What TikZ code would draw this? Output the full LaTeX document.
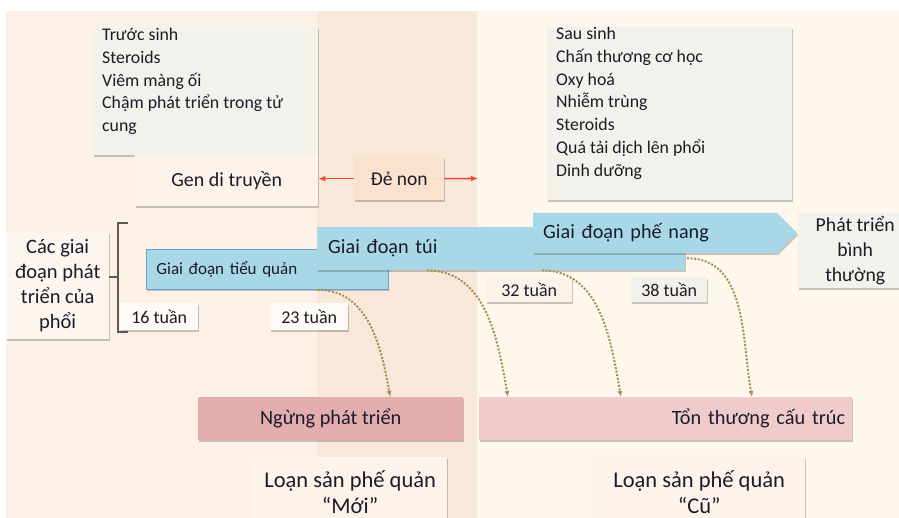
\documentclass[tikz,border=0pt]{standalone}
\usepackage{fontspec}
\setmainfont{Carlito}
\usetikzlibrary{positioning,arrows.meta,shapes.symbols,shadows}
\definecolor{bgleft}{HTML}{FDF0E4}
\definecolor{bgmid}{HTML}{F8E8D9}
\definecolor{bgright}{HTML}{FEF8EC}
\definecolor{notefill}{HTML}{F2F1EC}
\definecolor{genfill}{HTML}{FCF2E9}
\definecolor{prefill}{HTML}{FBE2CF}
\definecolor{lblfill}{HTML}{FDF6EF}
\definecolor{stagefill}{HTML}{A8D7E7}
\definecolor{stageline}{HTML}{6A9FCE}
\definecolor{stopfill}{HTML}{E3ADAD}
\definecolor{dmgfill}{HTML}{EFCCCB}
\definecolor{bpdfill}{HTML}{FDF3EA}
\definecolor{brown}{HTML}{A88E5A}
\definecolor{redarr}{HTML}{E84A3A}
\definecolor{ink}{HTML}{1B1B2A}

\begin{document}
\begin{tikzpicture}[x=1pt,y=-1pt,
 shade/.style={drop shadow={shadow xshift=1pt,shadow yshift=-2pt,opacity=.3,fill=black!70}},
 note/.style={fill=notefill,shade,anchor=north west,inner sep=0pt},
 list/.style={anchor=north west,align=left,inner sep=0pt,text=ink,font=\fontsize{17.8}{22.8}\selectfont},
 box/.style={shade,anchor=north west,align=center,text=ink,inner sep=0pt},
 weekbox/.style={box,fill=#1,minimum width=78pt,minimum height=27pt,font=\fontsize{18}{20}\selectfont},
 stage/.style={fill=stagefill,shade,text=ink,font=\fontsize{20.2}{22}\selectfont},
 arr/.style={-{Latex[length=7pt,width=6pt]},line width=1.6pt,draw=redarr},
 flow/.style={-{Latex[length=6pt,width=5pt]},line width=2pt,draw=brown,
 dash pattern=on 2pt off 1.6pt}]
\useasboundingbox (0,0) rectangle (899,518);
% background bands
\fill[white] (0,0) rectangle (899,518);
\fill[bgleft] (6,11) rectangle (317,518);
\fill[bgmid] (317,11) rectangle (477,518);
\fill[bgright] (477,11) rectangle (899,518);

% risk factors
\node[note,minimum width=225pt,minimum height=128pt] (prebox) at (93,27) {};
\node[list] (pretxt) at (102,28) {Trước sinh\\Steroids\\Viêm màng ối\\Chậm phát triển trong tử\\cung};
\node[box,fill=genfill,minimum width=183pt,minimum height=51pt,
 font=\fontsize{20}{22}\selectfont] (gen) at (135,155) {Gen di truyền};
\node[box,fill=prefill,minimum width=90pt,minimum height=43pt,
 font=\fontsize{19.5}{22}\selectfont] (preterm) at (354,157) {Đẻ non};
\node[note,minimum width=245pt,minimum height=173pt] (postbox) at (547,27) {};
\node[list] (posttxt) at (556,27) {Sau sinh\\Chấn thương cơ học\\Oxy hoá\\Nhiễm trùng\\Steroids\\Quá tải dịch lên phổi\\Dinh dưỡng};
\coordinate (postend) at (478,178.5);

% stages
\node[box,fill=lblfill,minimum width=103pt,minimum height=107pt,
 font=\fontsize{20.5}{25}\selectfont] (lungs) at (6,232) {Các giai\\đoạn phát\\triển của\\phổi};
\node[stage,draw=stageline,line width=.8pt,anchor=north west,minimum width=242pt,
 minimum height=40pt,text width=222pt,inner xsep=9pt,align=left,
 font=\fontsize{17}{20}\selectfont] (canal) at (146,249) {Giai đoạn tiểu quản};
\node[stage,anchor=north west,minimum width=366pt,minimum height=43pt,
 text width=346pt,inner xsep=11pt,align=left] (sac) at (317,227) {Giai đoạn túi};
\node[stage,shape=signal,signal to=east,signal from=nowhere,signal pointer angle=90,
 anchor=west,minimum height=40pt,text width=224pt,inner xsep=10pt,align=left] (alv) at (533,233) {Giai đoạn phế nang};
\node[box,fill=notefill,minimum width=114pt,minimum height=75pt,
 font=\fontsize{19.7}{25}\selectfont] (normal) at (798,213) {Phát triển\\bình\\thường};

% weeks
\node[weekbox=bpdfill!40] (w16) at (120,303) {16 tuần};
\node[weekbox=bpdfill!40] (w23) at (270,303) {23 tuần};
\node[weekbox=prefill!45,minimum width=86pt,minimum height=25pt] (w32) at (486,277) {32 tuần};
\node[weekbox=notefill,minimum width=76pt,minimum height=25pt] (w38) at (631,277) {38 tuần};

% outcomes
\node[box,fill=stopfill,minimum width=265pt,minimum height=43pt,
 font=\fontsize{20.3}{22}\selectfont] (stop) at (198,397) {Ngừng phát triển};
\node[box,fill=dmgfill,minimum width=373pt,minimum height=43pt,text width=359pt,
 inner xsep=7pt,align=right,font=\fontsize{20.3}{22}\selectfont] (dmg) at (479,397) {Tổn thương cấu trúc};
\node[box,fill=bpdfill,minimum width=194pt,minimum height=70pt,
 font=\fontsize{22.5}{26}\selectfont] (newbpd) at (253,457) {Loạn sản phế quản\\“Mới”};
\node[box,fill=bpdfill,minimum width=212pt,minimum height=70pt,
 font=\fontsize{22.5}{26}\selectfont] (oldbpd) at (593,457) {Loạn sản phế quản\\“Cũ”};

% connectors
\draw[line width=2pt,draw=black!65] (128,223) -- (118,223) -- (118,332) -- (128,332);
\draw[line width=2pt,draw=black!65] ([yshift=8.5pt]lungs.east) -- ++(9,0);
\draw[arr] (preterm.west) -- (preterm.west -| gen.east);
\draw[arr] (preterm.east) -- (postend);
\draw[flow] ([xshift=-71pt]canal.south east) to[out=0,in=100] ([xshift=59.5pt]stop.north);
\draw[flow] ([xshift=110pt]sac.south west) to[out=0,in=100] ([xshift=29pt]dmg.north west);
\draw[flow] ([xshift=225pt]sac.south west) to[out=0,in=100] ([xshift=142pt]dmg.north west);
\draw[flow] ([xshift=154pt,yshift=-5pt]alv.south west) to[out=0,in=100] ([xshift=273pt]dmg.north west);
\end{tikzpicture}
\end{document}
